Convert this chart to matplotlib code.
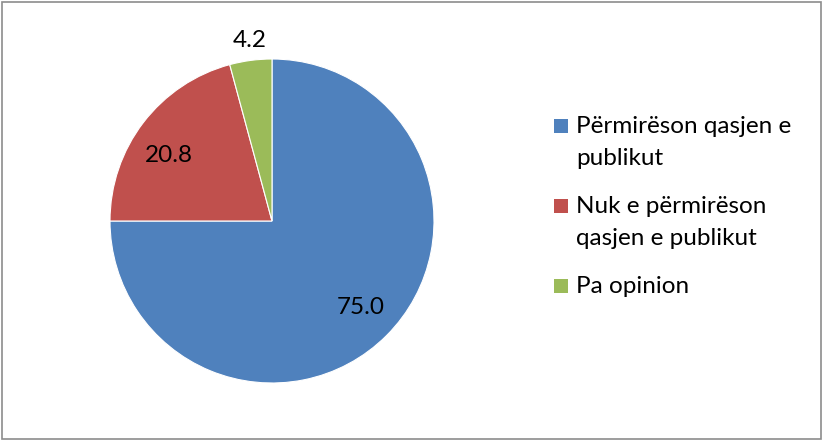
import matplotlib
matplotlib.use("Agg")
import matplotlib.pyplot as plt
from matplotlib.patches import Rectangle

categories = ["Përmirëson qasjen e\npublikut", "Nuk e përmirëson\nqasjen e publikut", "Pa opinion"]
values = [75.0, 20.8, 4.2]
colors = ["#4F81BD", "#C0504D", "#9BBB59"]

plt.rcParams['font.family'] = ['Lato', 'DejaVu Sans']

W, H = 823, 440
fig = plt.figure(figsize=(W/100, H/100), dpi=100)
ax = fig.add_axes([0, 0, 1, 1])

cx, cy, r = 272, H - 221, 162
wedges, _ = ax.pie(values, colors=colors, startangle=90, counterclock=False,
                   center=(cx, cy), radius=r, frame=True,
                   wedgeprops=dict(edgecolor='white', linewidth=0.8))
ax.set_xlim(0, W)
ax.set_ylim(0, H)
ax.set_aspect('equal')
ax.axis('off')

FS = 17.5
label_pos = [(361, H - 308), (169, H - 155), (250, H - 40)]
for (x, y), v in zip(label_pos, values):
    ax.text(x, y, f"{v:.1f}", ha='center', va='center', fontsize=FS, color='black')

# manual legend (square aligned with first line of each entry)
first_baselines = [133, 213, 293]
line_gap = 32
for base, lab, col in zip(first_baselines, categories, colors):
    ax.add_patch(Rectangle((554, H - base), 14, 14, facecolor=col, edgecolor='none'))
    for i, line in enumerate(lab.split("\n")):
        ax.text(576, H - (base + i * line_gap), line, ha='left', va='baseline',
                fontsize=FS, color='black')

fig.patches.append(Rectangle((2/W, 1/H), (W-4)/W, (H-3)/H, transform=fig.transFigure,
                             fill=False, edgecolor='#8c8c8c', linewidth=1.2))
fig.savefig("out.png", dpi=100)
